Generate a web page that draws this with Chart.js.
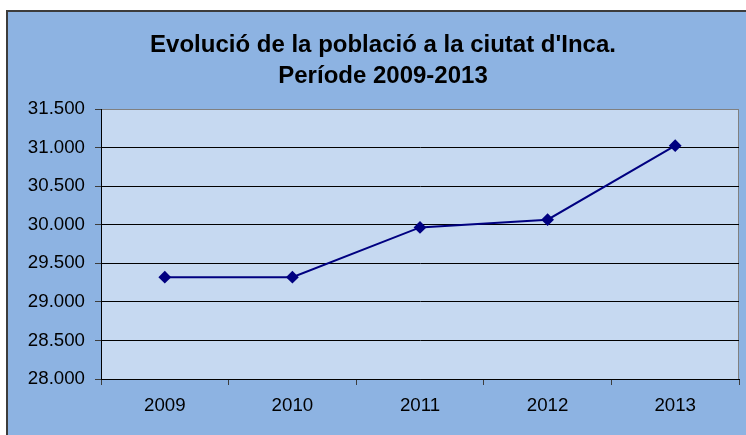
<!DOCTYPE html>
<html>
<head>
<meta charset="utf-8">
<script src="https://cdn.jsdelivr.net/npm/chart.js@4/dist/chart.umd.min.js"></script>
<style>
    body { margin: 0; background: #ffffff; }
    #frame {
        position: absolute;
        left: 6px;
        top: 10px;
        width: 760px;
        height: 440px;
        background: #8db3e2;
        border-left: 2px solid #3c3c3c;
        border-top: 2px solid #3c3c3c;
    }
    #chart { position: absolute; left: 0; top: 0; }
</style>
</head>
<body>
<div id="frame"></div>
<canvas id="chart" width="746" height="435"></canvas>
<script>
// Data
const years = ['2009', '2010', '2011', '2012', '2013'];
const population = [29320, 29320, 29965, 30065, 31025];
const titleLines = ["Evolució de la població a la ciutat d'Inca.", 'Període 2009-2013'];
const yTicks = [28000, 28500, 29000, 29500, 30000, 30500, 31000, 31500];

// 31500 -> "31.500"
function formatThousands(v) {
    return String(v).replace(/\B(?=(\d{3})+(?!\d))/g, '.');
}

// Plot area fill + grey border
const plotBackground = {
    id: 'plotBackground',
    beforeDraw(chart) {
        const { ctx, chartArea: a } = chart;
        ctx.save();
        ctx.fillStyle = '#c6d9f1';
        ctx.fillRect(a.left, a.top, a.right - a.left, a.bottom - a.top);
        ctx.strokeStyle = '#808080';
        ctx.lineWidth = 1;
        ctx.beginPath();
        ctx.moveTo(a.left, a.top + 0.5);
        ctx.lineTo(a.right - 0.5, a.top + 0.5);
        ctx.lineTo(a.right - 0.5, a.bottom);
        ctx.stroke();
        ctx.restore();
    }
};

// Two-line bold title, centred on the outer frame
const frameTitle = {
    id: 'frameTitle',
    afterDraw(chart) {
        const ctx = chart.ctx;
        ctx.save();
        ctx.fillStyle = '#000000';
        ctx.font = 'bold 24px "Liberation Sans", Arial, sans-serif';
        ctx.textAlign = 'center';
        ctx.textBaseline = 'alphabetic';
        ctx.fillText(titleLines[0], 383, 52);
        ctx.fillText(titleLines[1], 383, 83);
        ctx.restore();
    }
};

const ctx = document.getElementById('chart').getContext('2d');
new Chart(ctx, {
    type: 'line',
    data: {
        labels: years,
        datasets: [{
            data: population,
            borderColor: '#000080',
            backgroundColor: '#000080',
            borderWidth: 2,
            pointStyle: 'rectRot',
            pointRadius: 5,
            pointBackgroundColor: '#000080',
            pointBorderColor: '#000080',
            tension: 0
        }]
    },
    options: {
        responsive: false,
        animation: false,
        devicePixelRatio: 1,
        layout: {
            padding: { left: 0, top: 109, right: 3, bottom: 0 }
        },
        plugins: {
            legend: { display: false },
            tooltip: { enabled: false },
            title: { display: false }
        },
        scales: {
            x: {
                offset: true,
                grid: {
                    offset: true,
                    drawOnChartArea: false,
                    drawTicks: true,
                    tickLength: 6,
                    color: '#3c3c3c'
                },
                border: { color: '#000000', width: 1 },
                ticks: {
                    color: '#000000',
                    padding: 10,
                    maxRotation: 0,
                    font: { family: '"Liberation Sans", Arial, sans-serif', size: 18.7 }
                },
                afterFit(scale) {
                    scale.height = 56;
                    scale.paddingLeft = 0;
                    scale.paddingRight = 0;
                }
            },
            y: {
                min: yTicks[0],
                max: yTicks[yTicks.length - 1],
                afterBuildTicks(scale) {
                    scale.ticks = yTicks.map(v => ({ value: v }));
                },
                grid: {
                    color: ctx => ctx.tick && ctx.tick.value === 31500 ? '#808080' : '#000000',
                    tickLength: 6,
                    tickColor: '#3c3c3c'
                },
                border: { color: '#000000', width: 1 },
                ticks: {
                    color: '#000000',
                    padding: 10,
                    callback: v => formatThousands(v),
                    font: { family: '"Liberation Sans", Arial, sans-serif', size: 18.7 }
                },
                afterFit(scale) {
                    scale.width = 101;
                    scale.paddingTop = 0;
                    scale.paddingBottom = 0;
                }
            }
        }
    },
    plugins: [plotBackground, frameTitle]
});
</script>
</body>
</html>
